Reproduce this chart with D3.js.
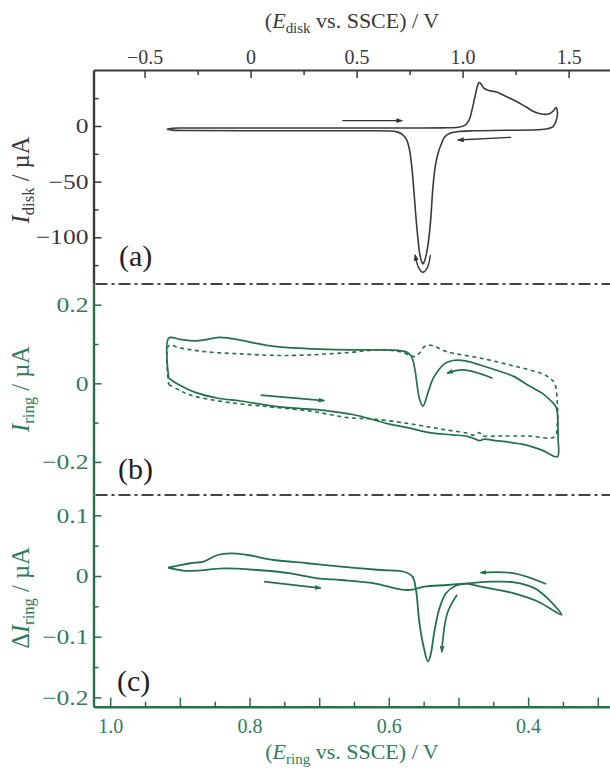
<!DOCTYPE html>
<html><head><meta charset="utf-8">
<script src="https://cdn.jsdelivr.net/npm/d3@7"></script>
<style>
html,body{margin:0;padding:0;background:#fff;}
svg{display:block;}
text{font-family:"Liberation Serif","Times New Roman",serif;}
</style></head>
<body>
<div id="chart"></div>
<script>
// ---------------- DATA ----------------
// (a) disk CV: E_disk (V vs SSCE), I_disk (µA) – one closed loop
const diskE = [-0.395,-0.37,-0.3,0.0,0.5,0.9,0.98,1.01,1.03,1.045,1.06,1.07,1.078,1.09,1.10,1.12,1.16,1.2,1.25,1.3,1.34,1.38,1.41,1.43,1.44,1.447,1.44,1.425,1.40,1.35,1.2,1.05,0.98,0.94,0.915,0.9,0.885,0.872,0.86,0.849,0.838,0.828,0.819,0.812,0.805,0.797,0.788,0.779,0.77,0.76,0.748,0.735,0.715,0.69,0.65,0.55,0.0,-0.3,-0.37,-0.395];
const diskI = [-3.0,-2.0,-1.8,-1.8,-1.8,-1.7,-1.2,0.5,5,15,28,36,39,37,34,32,30.5,27,22.5,17,12.5,10.5,11,14,16.5,13,4,-0.8,-2.5,-3.4,-3.9,-4.3,-5,-6.5,-10,-16,-24,-35,-55,-85,-105,-116,-122,-124,-121,-114,-99,-80,-58,-36,-20,-12,-7.5,-5.3,-4.5,-4.3,-4.3,-4.1,-3.7,-3.0];

// (b) ring CV, solid trace: E_ring (V), I_ring (µA)
const ringSolidE = [0.916,0.90,0.878,0.845,0.813,0.766,0.72,0.688,0.65,0.621,0.599,0.57,0.54,0.51,0.487,0.476,0.470,0.463,0.45,0.405,0.38,0.358,0.357,0.358,0.360,0.367,0.38,0.40,0.42,0.44,0.468,0.49,0.508,0.52,0.528,0.537,0.544,0.551,0.556,0.559,0.563,0.568,0.575,0.583,0.62,0.654,0.70,0.738,0.765,0.794,0.813,0.842,0.86,0.88,0.90,0.916,0.916];
const ringSolidI = [0.013,-0.005,-0.023,-0.038,-0.045,-0.058,-0.065,-0.070,-0.080,-0.093,-0.104,-0.114,-0.126,-0.131,-0.135,-0.142,-0.146,-0.142,-0.145,-0.156,-0.170,-0.187,-0.14,-0.076,-0.060,-0.045,-0.025,-0.005,0.017,0.030,0.046,0.057,0.058,0.050,0.035,0.010,-0.025,-0.058,-0.040,-0.010,0.040,0.070,0.080,0.083,0.085,0.085,0.087,0.090,0.094,0.103,0.110,0.117,0.112,0.108,0.112,0.115,0.013];

// (b) ring CV, dashed trace
const ringDashE = [0.916,0.90,0.885,0.837,0.80,0.765,0.708,0.66,0.621,0.573,0.54,0.516,0.49,0.476,0.470,0.466,0.44,0.40,0.362,0.358,0.358,0.362,0.37,0.381,0.42,0.468,0.516,0.54,0.549,0.557,0.564,0.583,0.612,0.66,0.717,0.765,0.813,0.861,0.90,0.916,0.916];
const ringDashI = [-0.003,-0.018,-0.030,-0.047,-0.055,-0.061,-0.072,-0.087,-0.091,-0.102,-0.112,-0.119,-0.126,-0.132,-0.125,-0.133,-0.134,-0.134,-0.136,-0.10,-0.051,0.0,0.015,0.025,0.044,0.064,0.080,0.097,0.093,0.075,0.068,0.080,0.085,0.078,0.072,0.071,0.075,0.080,0.090,0.096,-0.003];

// (c) ΔI_ring
const deltaE = [0.917,0.895,0.875,0.837,0.789,0.741,0.703,0.669,0.621,0.592,0.576,0.564,0.549,0.516,0.487,0.453,0.42,0.391,0.372,0.352,0.386,0.42,0.468,0.487,0.504,0.518,0.528,0.535,0.540,0.544,0.549,0.556,0.561,0.566,0.578,0.612,0.669,0.717,0.765,0.803,0.827,0.846,0.866,0.885,0.917];
const deltaI = [0.0137,0.0088,0.0088,0.0126,0.0099,0.0044,-0.0038,-0.0066,-0.012,-0.020,-0.023,-0.022,-0.0176,-0.0148,-0.012,-0.0094,-0.0104,-0.020,-0.037,-0.064,-0.042,-0.0285,-0.0176,-0.013,-0.016,-0.0285,-0.056,-0.094,-0.130,-0.141,-0.122,-0.078,-0.023,-0.001,0.007,0.0099,0.0154,0.021,0.0264,0.0346,0.0374,0.0346,0.0236,0.021,0.0137];

// direction arrows (data coordinates)
const arrowsA = [
  [[0.433,4.8],[0.714,4.8]],
  [[1.229,-10.2],[0.979,-12.6]],
  [[0.848,-116],[0.832,-128],[0.812,-131.5],[0.792,-127],[0.776,-116]]
];
const arrowsB = [
  [[0.784,-0.030],[0.693,-0.044]],
  [[0.451,0.013],[0.493,0.034],[0.516,0.026]]
];
const arrowsC = [
  [[0.779,-0.0094],[0.698,-0.020]],
  [[0.374,-0.0132],[0.420,0.0044],[0.468,0.0055]],
  [[0.502,-0.031],[0.516,-0.0615],[0.524,-0.125]]
];

// axis ticks
const topMajor = [-0.5,0,0.5,1.0,1.5];
const topMinor = [-0.25,0.25,0.75,1.25];
const botMajor = [1.0,0.8,0.6,0.4];
const botMid = [0.9,0.7,0.5,0.3];
const botMinor = [0.95,0.85,0.75,0.65,0.55,0.45,0.35];
const aMajor = [0,-50,-100];
const aMinor = [25,-25,-75,-125];
const bMajor = [0.2,0,-0.2];
const bMinor = [0.1,-0.1];
const cMajor = [0.1,0,-0.1,-0.2];
const cMinor = [0.05,-0.05,-0.15];

// ---------------- DRAWING ----------------
const W = 610, H = 769;
const GRAY = "#3a3a3a", GREEN = "#23704c", GREENT = "#2f7d5a";
const X0 = 93.5, X1 = 614;
const yTopAxis = 70, yAB = 284, yBC = 495, yBot = 706.7;

const svg = d3.select("#chart").append("svg").attr("width", W).attr("height", H);

const xDisk = d3.scaleLinear().domain([-0.741, 1.714]).range([X0, X1]);
const xRing = d3.scaleLinear().domain([1.024, 0.2767]).range([X0, X1]);
const yA = d3.scaleLinear().domain([-142, 50.3]).range([yAB, yTopAxis]);
const yB = d3.scaleLinear().domain([-0.2842, 0.2527]).range([yBC, yAB]);
const yC = d3.scaleLinear().domain([-0.2154, 0.1335]).range([yBot, yBC]);

const minus = s => s.replace("-", "\u2212");
const fmt1 = d => d === 0 ? "0" : minus(d3.format(".1f")(d));
const fmtInt = d => minus(String(d));

function styleAxis(g, color, width) {
  g.selectAll("path.domain").attr("stroke", color).attr("stroke-width", width);
  g.selectAll(".tick line").attr("stroke", color).attr("stroke-width", 1.5);
  g.selectAll(".tick text").attr("fill", color).attr("font-size", 21)
    .attr("font-family", "Liberation Serif, serif");
}

// Top axis
{
  const gMin = svg.append("g").attr("transform", `translate(0,${yTopAxis})`)
    .call(d3.axisTop(xDisk).tickValues(topMinor).tickSize(-5).tickFormat(""));
  gMin.select("path.domain").remove();
  styleAxis(gMin, GRAY, 2);
  const g = svg.append("g").attr("transform", `translate(0,${yTopAxis})`)
    .call(d3.axisTop(xDisk).tickValues(topMajor).tickSize(-8).tickSizeOuter(0).tickPadding(6).tickFormat(fmt1));
  styleAxis(g, GRAY, 2);
  g.selectAll(".tick text").attr("font-size", 20);
}
// Bottom axis
{
  const g1 = svg.append("g").attr("transform", `translate(0,${yBot})`)
    .call(d3.axisBottom(xRing).tickValues(botMinor).tickSize(-5).tickFormat(""));
  g1.select("path.domain").remove(); styleAxis(g1, GREEN, 2);
  const g2 = svg.append("g").attr("transform", `translate(0,${yBot})`)
    .call(d3.axisBottom(xRing).tickValues(botMid).tickSize(-9).tickFormat(""));
  g2.select("path.domain").remove(); styleAxis(g2, GREEN, 2);
  const g = svg.append("g").attr("transform", `translate(0,${yBot})`)
    .call(d3.axisBottom(xRing).tickValues(botMajor).tickSize(-9).tickSizeOuter(0).tickPadding(12).tickFormat(fmt1));
  styleAxis(g, GREEN, 2.4);
  g.selectAll(".tick text").attr("fill", GREENT).attr("font-size", 20);
}
// Left axes (labels slightly stretched horizontally like the reference)
function leftAxis(y, major, minor, fmt, color, tcolor) {
  const gm = svg.append("g").attr("transform", `translate(${X0},0)`)
    .call(d3.axisLeft(y).tickValues(minor).tickSize(-5).tickFormat(""));
  gm.select("path.domain").remove(); styleAxis(gm, color, 2.4);
  const g = svg.append("g").attr("transform", `translate(${X0},0)`)
    .call(d3.axisLeft(y).tickValues(major).tickSize(-8).tickSizeOuter(0).tickPadding(5).tickFormat(fmt));
  styleAxis(g, color, 2.4);
  const sx = 1.22;
  g.selectAll(".tick text").attr("fill", tcolor)
    .attr("x", -5 / sx).attr("transform", `scale(${sx},1)`);
}
leftAxis(yA, aMajor, aMinor, fmtInt, GRAY, GRAY);
leftAxis(yB, bMajor, bMinor, fmt1, GREEN, GREENT);
leftAxis(yC, cMajor, cMinor, fmt1, GREEN, GREENT);

// dash-dot separators
[yAB, yBC].forEach(yy => {
  svg.append("line").attr("x1", X0 + 2).attr("x2", W).attr("y1", yy).attr("y2", yy)
    .attr("stroke", "#444").attr("stroke-width", 2).attr("stroke-dasharray", "12,4,3,4");
});

// markers
function marker(id, color) {
  svg.append("defs").append("marker").attr("id", id)
    .attr("viewBox", "0 0 10 10").attr("refX", 8).attr("refY", 5)
    .attr("markerWidth", 7).attr("markerHeight", 7).attr("orient", "auto")
    .attr("markerUnits", "userSpaceOnUse")
    .append("path").attr("d", "M0,1.5 L10,5 L0,8.5 Z").attr("fill", color);
}
marker("arrGray", "#333");
marker("arrGreen", GREEN);

const lineGen = (x, y, E, I) => d3.line().x(i => x(E[i])).y(i => y(I[i])).curve(d3.curveCatmullRom.alpha(0.5))(d3.range(E.length));
const arrowGen = (x, y) => d3.line().x(p => x(p[0])).y(p => y(p[1])).curve(d3.curveCatmullRom.alpha(0.5));

// (a)
svg.append("path").attr("d", lineGen(xDisk, yA, diskE, diskI))
  .attr("fill", "none").attr("stroke", "#3a3a3a").attr("stroke-width", 1.6).attr("stroke-linejoin", "round");
arrowsA.forEach(a => svg.append("path").attr("d", arrowGen(xDisk, yA)(a))
  .attr("fill", "none").attr("stroke", "#333").attr("stroke-width", 1.4).attr("marker-end", "url(#arrGray)"));

// (b)
svg.append("path").attr("d", lineGen(xRing, yB, ringDashE, ringDashI))
  .attr("fill", "none").attr("stroke", GREEN).attr("stroke-width", 1.6).attr("stroke-dasharray", "4,3.5");
svg.append("path").attr("d", lineGen(xRing, yB, ringSolidE, ringSolidI))
  .attr("fill", "none").attr("stroke", GREEN).attr("stroke-width", 1.7).attr("stroke-linejoin", "round");
arrowsB.forEach(a => svg.append("path").attr("d", arrowGen(xRing, yB)(a))
  .attr("fill", "none").attr("stroke", GREEN).attr("stroke-width", 1.7).attr("marker-end", "url(#arrGreen)"));

// (c)
svg.append("path").attr("d", lineGen(xRing, yC, deltaE, deltaI))
  .attr("fill", "none").attr("stroke", GREEN).attr("stroke-width", 1.8).attr("stroke-linejoin", "round");
arrowsC.forEach(a => svg.append("path").attr("d", arrowGen(xRing, yC)(a))
  .attr("fill", "none").attr("stroke", GREEN).attr("stroke-width", 1.7).attr("marker-end", "url(#arrGreen)"));

// panel labels
[["(a)", 119, 266], ["(b)", 118, 479], ["(c)", 117, 691]].forEach(([t, x, y]) =>
  svg.append("text").attr("x", x).attr("y", y).attr("font-size", 30).attr("fill", "#222").text(t));

// axis titles
function title(x, y, rot, color, size, pre, sym, sub, post) {
  const t = svg.append("text").attr("transform", `translate(${x},${y}) rotate(${rot})`)
    .attr("text-anchor", "middle").attr("font-size", size).attr("fill", color);
  if (pre) t.append("tspan").text(pre);
  t.append("tspan").attr("font-style", "italic").text(sym);
  t.append("tspan").attr("font-size", size * 0.68).attr("dy", 5).text(sub);
  t.append("tspan").attr("dy", -5).text(post);
}
title(352, 28, 0, GRAY, 22, "(", "E", "disk", " vs. SSCE) / V");
title(352, 759, 0, GREENT, 22, "(", "E", "ring", " vs. SSCE) / V");
title(29, 180, -90, GRAY, 24.5, "", "I", "disk", " / \u00b5A");
title(29, 389, -90, GREENT, 24.5, "", "I", "ring", " / \u00b5A");
title(29, 598, -90, GREENT, 24.5, "\u0394", "I", "ring", " / \u00b5A");
</script>
</body></html>
